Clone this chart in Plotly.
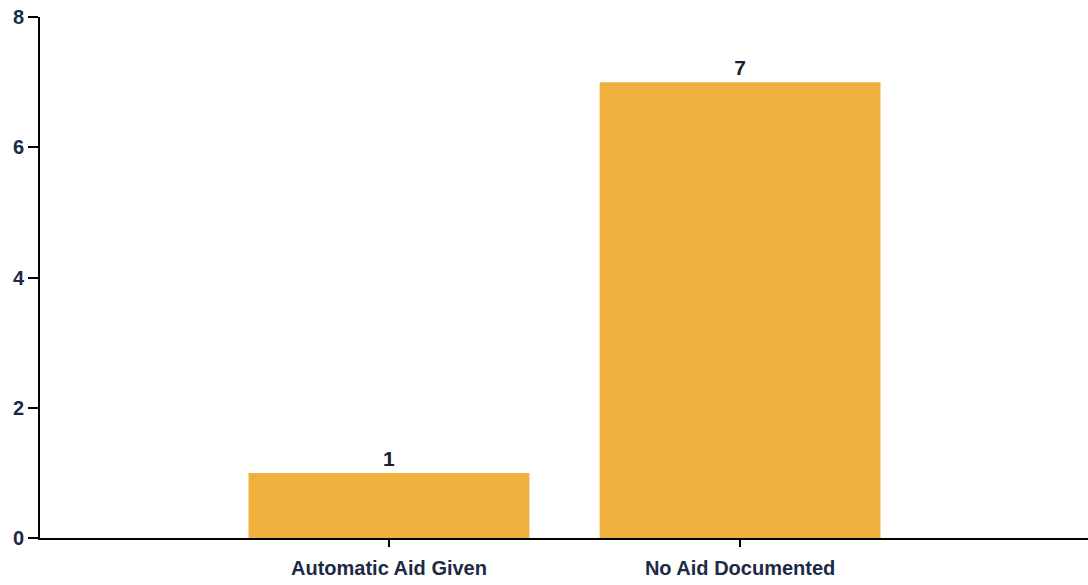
import plotly.graph_objects as go

categories = ["Automatic Aid Given", "No Aid Documented"]
values = [1, 7]
y_ticks = [0, 2, 4, 6, 8]

bar_color = "#F0B03E"
text_color = "#1c2a45"

fig = go.Figure(
    go.Bar(
        x=categories,
        y=values,
        width=0.8,
        marker=dict(color=bar_color, line=dict(width=0)),
        text=[str(v) for v in values],
        textposition="outside",
        textfont=dict(family="Liberation Sans", size=21, color="#16232c", weight="bold"),
        cliponaxis=False,
    )
)

fig.update_layout(
    width=1088,
    height=585,
    margin=dict(l=40, r=0, t=17, b=47),
    paper_bgcolor="white",
    plot_bgcolor="white",
    showlegend=False,
    font=dict(family="Liberation Sans", size=20, color=text_color),
)

fig.update_xaxes(
    type="category",
    range=[-0.994, 1.991],
    showline=True,
    linecolor="black",
    linewidth=2,
    ticks="outside",
    ticklen=7,
    tickcolor="black",
    tickwidth=1.5,
    ticklabelstandoff=4,
    showgrid=False,
    zeroline=False,
    tickfont=dict(size=20, color=text_color, weight="bold"),
)

fig.update_yaxes(
    range=[0, 8],
    tickvals=y_ticks,
    showline=True,
    linecolor="black",
    linewidth=2,
    ticks="outside",
    ticklen=10,
    tickcolor="black",
    tickwidth=1.5,
    showgrid=False,
    zeroline=False,
    tickfont=dict(size=20, color=text_color, weight="bold"),
)

fig.write_html("out.html")
